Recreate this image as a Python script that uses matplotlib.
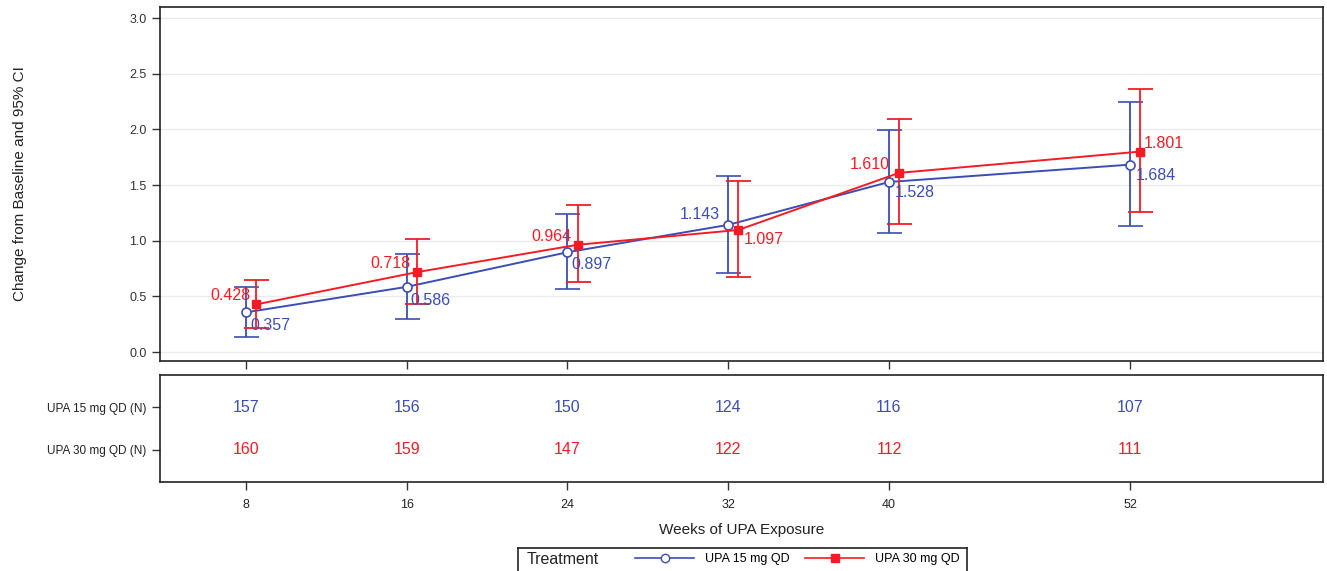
import matplotlib
matplotlib.use("Agg")
import matplotlib.pyplot as plt
from matplotlib.lines import Line2D

plt.rcParams['font.family'] = ['Liberation Sans', 'DejaVu Sans']

# Visit weeks and treatment results
weeks = [8, 16, 24, 32, 40, 52]

upa15_mean = [0.357, 0.586, 0.897, 1.143, 1.528, 1.684]
upa15_lower = [0.135, 0.296, 0.566, 0.713, 1.066, 1.132]
upa15_upper = [0.584, 0.880, 1.240, 1.580, 1.995, 2.246]
upa15_n = [157, 156, 150, 124, 116, 107]

upa30_mean = [0.428, 0.718, 0.964, 1.097, 1.610, 1.801]
upa30_lower = [0.216, 0.431, 0.632, 0.671, 1.150, 1.255]
upa30_upper = [0.647, 1.015, 1.318, 1.536, 2.093, 2.363]
upa30_n = [160, 159, 147, 122, 112, 111]

series_names = ["UPA 15 mg QD", "UPA 30 mg QD"]
row_labels = ["UPA 15 mg QD (N)", "UPA 30 mg QD (N)"]
y_ticks = [0.0, 0.5, 1.0, 1.5, 2.0, 2.5, 3.0]

BLUE = '#3C4DB3'
RED = '#F41C24'
W, H = 1327, 571
DODGE = 0.5

fig = plt.figure(figsize=(W / 100, H / 100), dpi=100)


def px_axes(x0, y0, x1, y1):
    return fig.add_axes([x0 / W, 1 - y1 / H, (x1 - x0) / W, (y1 - y0) / H])


ax = px_axes(160, 7, 1323, 361)
axn = px_axes(160, 375, 1323, 482)

xlim = (3.72, 61.6)

# Main panel: means with 95% CI
x15 = weeks
x30 = [w + DODGE for w in weeks]
e15 = [[m - lo for m, lo in zip(upa15_mean, upa15_lower)],
       [hi - m for m, hi in zip(upa15_mean, upa15_upper)]]
e30 = [[m - lo for m, lo in zip(upa30_mean, upa30_lower)],
       [hi - m for m, hi in zip(upa30_mean, upa30_upper)]]

ax.errorbar(x15, upa15_mean, yerr=e15, color=BLUE, lw=1.4, elinewidth=1.3,
            capsize=9, capthick=1.3, marker='o', ms=6.5, mfc='white',
            mec=BLUE, mew=1.2, zorder=3)
ax.errorbar(x30, upa30_mean, yerr=e30, color=RED, lw=1.4, elinewidth=1.3,
            capsize=9, capthick=1.3, marker='s', ms=6, mfc=RED,
            mec=RED, zorder=4)

# Value labels beside each marker (offsets in pixels)
blue_pos = [((4, -18), 'left'), ((4, -18), 'left'), ((4, -17), 'left'),
            ((-8, 6), 'right'), ((6, -15), 'left'), ((6, -15), 'left')]
red_pos = [((-6, 4), 'right'), ((-6, 4), 'right'), ((-6, 4), 'right'),
           ((5, -14), 'left'), ((-9, 4), 'right'), ((4, 4), 'left')]
for x, y, (off, ha) in zip(x15, upa15_mean, blue_pos):
    ax.annotate(f"{y:.3f}", (x, y), xytext=off, textcoords='offset pixels',
                ha=ha, va='baseline', color=BLUE, fontsize=11.5, zorder=5)
for x, y, (off, ha) in zip(x30, upa30_mean, red_pos):
    ax.annotate(f"{y:.3f}", (x, y), xytext=off, textcoords='offset pixels',
                ha=ha, va='baseline', color=RED, fontsize=11.5, zorder=5)

ax.set_xlim(*xlim)
ax.set_ylim(-0.08, 3.1)
ax.set_yticks(y_ticks)
ax.set_yticklabels([f"{v:.1f}" for v in y_ticks], fontsize=9, color='#333333')
ax.set_xticks(weeks)
ax.set_xticklabels([])
ax.grid(axis='y', color='#EBEBEB', lw=1)
ax.set_axisbelow(True)
ax.tick_params(length=6, width=1, color='#333333')
ax.set_ylabel("Change from Baseline and 95% CI", fontsize=11, labelpad=74,
              color='#222222')
for s in ax.spines.values():
    s.set_linewidth(1.2)
    s.set_color('#222222')

# Number-at-risk panel
axn.set_xlim(*xlim)
axn.set_ylim(1, 0)
row_y = [0.3, 0.7]
for w, n in zip(weeks, upa15_n):
    axn.text(w, row_y[0], str(n), ha='center', va='center', color=BLUE,
             fontsize=11.5)
for w, n in zip(weeks, upa30_n):
    axn.text(w, row_y[1], str(n), ha='center', va='center', color=RED,
             fontsize=11.5)
axn.set_yticks(row_y)
axn.set_yticklabels(row_labels, fontsize=8.5, color='#222222')
axn.set_xticks(weeks)
axn.set_xticklabels([str(w) for w in weeks], fontsize=9, color='#222222')
axn.tick_params(length=6, width=1, color='#333333')
axn.tick_params(axis='x', pad=6)
axn.set_xlabel("Weeks of UPA Exposure", fontsize=11, labelpad=9,
               color='#222222')
for s in axn.spines.values():
    s.set_linewidth(1.2)
    s.set_color('#222222')

# Legend box
axl = px_axes(518, 548, 967, 578)
axl.set_xticks([])
axl.set_yticks([])
for s in axl.spines.values():
    s.set_linewidth(1.2)
    s.set_color('#222222')
axl.text(9 / 449, 0.6, "Treatment", transform=axl.transAxes,
         ha='left', va='center', fontsize=11.5, color='#222222')
handles = [Line2D([], [], color=BLUE, lw=1.2, marker='o', ms=6, mfc='white',
                  mec=BLUE),
           Line2D([], [], color=RED, lw=1.2, marker='s', ms=5.5, mfc=RED,
                  mec=RED)]
axl.legend(handles, series_names, loc='center right', ncol=2, frameon=False,
           fontsize=9, handlelength=4.7, handletextpad=0.85,
           columnspacing=1.3, borderaxespad=0.2,
           bbox_to_anchor=(1.0, 0.62))

fig.savefig("out.png", dpi=100)
